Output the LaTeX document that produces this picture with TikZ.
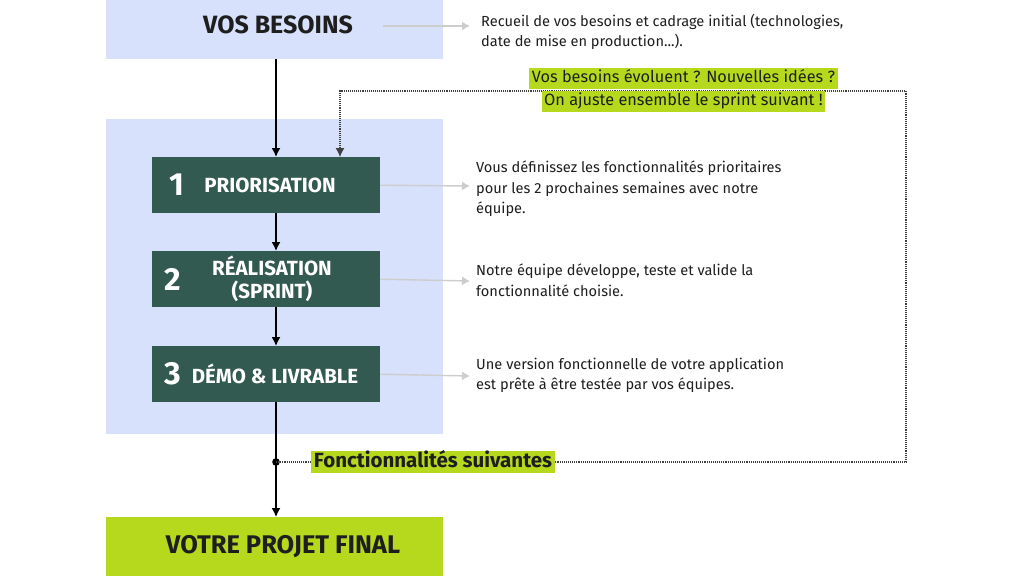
\documentclass[tikz,border=0pt]{standalone}
\usepackage{fontspec}
\setmainfont{Fira Sans}
\usetikzlibrary{arrows.meta}
\definecolor{lblue}{HTML}{D7E1FB}
\definecolor{dgreen}{HTML}{335A50}
\definecolor{lime}{HTML}{B6D91E}
\definecolor{garrow}{HTML}{CDCDCD}
\definecolor{txt}{HTML}{1E1E1E}
\tikzset{
  bluebox/.style={fill=lblue, draw=none, inner sep=0, text=txt, font=\bfseries\fontsize{25}{28}\selectfont},
  stepbox/.style={fill=dgreen, draw=none, inner sep=0, minimum width=228, minimum height=56, text=white, align=center, font=\bfseries\fontsize{20.5}{23.5}\selectfont},
  numtxt/.style={text=white, font=\bfseries\fontsize{32}{32}\selectfont, inner sep=0},
  finalbox/.style={fill=lime, draw=none, inner sep=0, text=txt, font=\bfseries\fontsize{25.5}{28}\selectfont},
  desc/.style={anchor=north west, align=left, inner sep=0, text=txt, font=\fontsize{14.6}{20.3}\selectfont},
  hl/.style={fill=lime, inner xsep=2.5, inner ysep=0, text height=15, text depth=6, text=txt},
  arr/.style={line width=1.5, draw=black, -{Latex[length=9,width=9]}},
  garr/.style={line width=1.4, draw=garrow, -{Latex[length=8,width=9]}},
  loopline/.style={line width=1.1, draw=black!75, densely dotted},
}
\begin{document}
\begin{tikzpicture}[x=1pt,y=-1pt]
\useasboundingbox (0,0) rectangle (1024,576);
\fill[white] (0,0) rectangle (1024,576);
% panels
\node[bluebox, minimum width=337, minimum height=59, anchor=north west] (besoins) at (106,0) {};
\node[bluebox] (besoinsT) at (278,25) {VOS BESOINS};
\node[fill=lblue, inner sep=0, minimum width=337, minimum height=315, anchor=north west] (panel) at (106,119) {};
\node[finalbox, minimum width=337, minimum height=59, anchor=north west] (final) at (106,517) {};
\node[finalbox] (finalT) at (283,547) {VOTRE PROJET FINAL};
% step boxes
\node[stepbox, anchor=north west] (b1) at (152,157) {};
\node[stepbox, anchor=north west] (b2) at (152,251) {};
\node[stepbox, anchor=north west] (b3) at (152,346) {};
\node[numtxt] (n1) at (177,185) {1};
\node[stepbox, fill=none, minimum width=0, minimum height=0] (l1) at (270,185) {PRIORISATION};
\node[numtxt] (n2) at (173,279) {2};
\node[stepbox, fill=none, minimum width=0, minimum height=0] (l2) at (272,279) {RÉALISATION\\(SPRINT)};
\node[numtxt] (n3) at (173,374) {3};
\node[stepbox, fill=none, minimum width=0, minimum height=0] (l3) at (275,374) {DÉMO \& LIVRABLE};
% spine
\coordinate (spine) at (276,0);
\coordinate (dot) at (276,462);
\draw[line width=1.5] (besoins.south -| spine) -- (panel.north -| spine);
\draw[arr] (panel.north -| spine) -- (b1.north -| spine);
\draw[arr] (b1.south -| spine) -- (b2.north -| spine);
\draw[arr] (b2.south -| spine) -- (b3.north -| spine);
\draw[arr] (b3.south -| spine) -- (final.north -| spine);
\fill (dot) circle (3.8);
% loop
\coordinate (c1) at (906,462);
\coordinate (c2) at (906,91);
\coordinate (c3) at (340,91);
\draw[loopline, -{Latex[length=9,width=9]}] (dot) -- (c1) -- (c2) -- (c3) -- (b1.north -| c3);
\node[hl, font=\bfseries\fontsize{20.5}{22}\selectfont, text height=16, text depth=6] (next) at (433,462) {Fonctionnalités suivantes};
\node[hl, font=\fontsize{16.3}{20}\selectfont] (q1) at (683.5,78) {Vos besoins évoluent ? Nouvelles idées ?};
\node[hl, font=\fontsize{16.3}{20}\selectfont] (q2) at (683.5,101) {On ajuste ensemble le sprint suivant !};
% descriptions
\node[desc] (d0) at (481,14) {Recueil de vos besoins et cadrage initial (technologies,\\date de mise en production...).};
\node[desc] (d1) at (476,161) {Vous définissez les fonctionnalités prioritaires\\pour les 2 prochaines semaines avec notre\\équipe.};
\node[desc] (d2) at (476,264) {Notre équipe développe, teste et valide la\\fonctionnalité choisie.};
\node[desc] (d3) at (476,358) {Une version fonctionnelle de votre application\\est prête à être testée par vos équipes.};
\draw[garr] (383,26) -- (470,26);
\draw[garr] (b1.east) -- (470,186);
\draw[garr] (b2.east) -- (470,281);
\draw[garr] (b3.east) -- (470,376);
\end{tikzpicture}
\end{document}
